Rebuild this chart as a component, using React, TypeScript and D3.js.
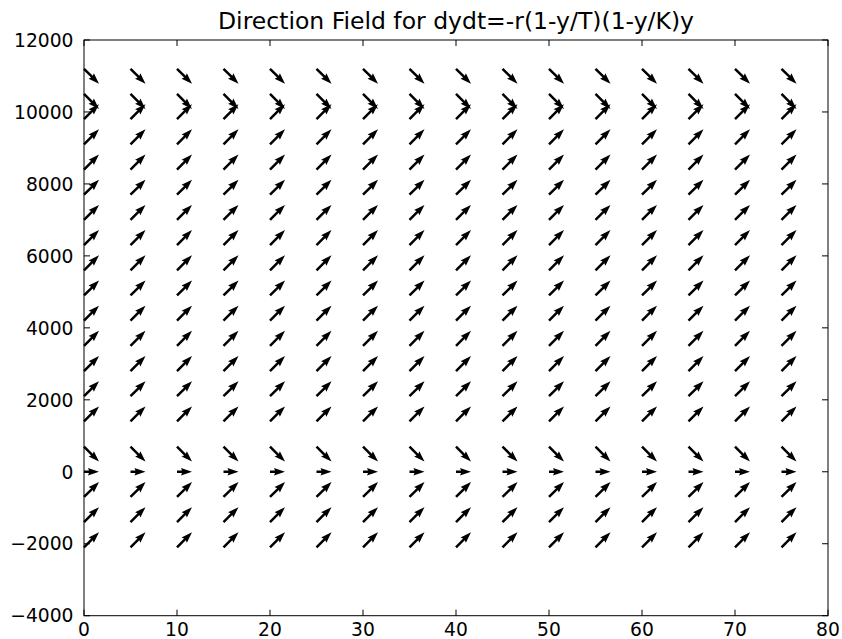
import { useRef, useEffect } from 'react';
import * as d3 from 'd3';

// grid of the direction field
const xValues = [0, 5, 10, 15, 20, 25, 30, 35, 40, 45, 50, 55, 60, 65, 70, 75];
const yValues = [-2100, -1400, -700, 0, 700, 1400, 2100, 2800, 3500, 4200, 4900, 5600, 6300, 7000, 7700, 8400, 9100, 9800, 10500, 11200];
// sign of dy/dt on each row (1 = up, 0 = flat, -1 = down)
const slopeSigns = [1, 1, 1, 0, -1, 1, 1, 1, 1, 1, 1, 1, 1, 1, 1, 1, 1, 1, -1, -1];

const xTicks = [0, 10, 20, 30, 40, 50, 60, 70, 80];
const yTicks = [-4000, -2000, 0, 2000, 4000, 6000, 8000, 10000, 12000];

const title = 'Direction Field for dydt=-r(1-y/T)(1-y/K)y';

const fmt = (d: number) => (d < 0 ? '\u2212' + Math.abs(d) : String(d));

export default function App() {
  const svgRef = useRef<SVGSVGElement>(null);

  useEffect(() => {
    const width = 842;
    const height = 639;
    const margin = { top: 40, right: 14, bottom: 23.3, left: 84 };
    const innerWidth = width - margin.left - margin.right;
    const innerHeight = height - margin.top - margin.bottom;

    const svg = d3.select(svgRef.current);
    svg.selectAll('*').remove();

    svg.append('rect').attr('width', width).attr('height', height).attr('fill', '#ffffff');

    const g = svg.append('g').attr('transform', `translate(${margin.left},${margin.top})`);

    const x = d3.scaleLinear().domain([0, 80]).range([0, innerWidth]);
    const y = d3.scaleLinear().domain([-4000, 12000]).range([innerHeight, 0]);

    const font = '"DejaVu Sans", sans-serif';
    const tickLen = 6;
    const tickFont = '18.7px';

    // arrows (quiver, pivot at tail)
    const unit = 15;
    const w = 2.5;
    const headLen = 4.4 * w;
    const headAxis = 4 * w;
    const headHalf = 1.5 * w;

    const arrowPath = (len: number) => {
      const hl = Math.min(headLen, len);
      const ha = Math.min(headAxis, len);
      const pts: [number, number][] = [
        [0, -w / 2],
        [len - ha, -w / 2],
        [len - hl, -headHalf],
        [len, 0],
        [len - hl, headHalf],
        [len - ha, w / 2],
        [0, w / 2],
      ];
      return d3.line()(pts) + 'Z';
    };

    const cells = xValues.flatMap(xv => yValues.map((yv, i) => ({ x: xv, y: yv, s: slopeSigns[i] })));

    g.append('g')
      .selectAll('path')
      .data(cells)
      .enter()
      .append('path')
      .attr('d', d => arrowPath(unit * Math.sqrt(1 + d.s * d.s)))
      .attr('transform', d => `translate(${x(d.x)},${y(d.y)}) rotate(${-Math.atan2(d.s, 1) * 180 / Math.PI})`)
      .attr('fill', '#000000');

    // frame
    g.append('rect')
      .attr('width', innerWidth)
      .attr('height', innerHeight)
      .attr('fill', 'none')
      .attr('stroke', '#000000')
      .attr('stroke-width', 1);

    // ticks on all four sides, pointing in
    const ticks = g.append('g').attr('stroke', '#000000').attr('stroke-width', 1);
    xTicks.forEach(t => {
      ticks.append('line').attr('x1', x(t)).attr('x2', x(t)).attr('y1', innerHeight).attr('y2', innerHeight - tickLen);
      ticks.append('line').attr('x1', x(t)).attr('x2', x(t)).attr('y1', 0).attr('y2', tickLen);
    });
    yTicks.forEach(t => {
      ticks.append('line').attr('x1', 0).attr('x2', tickLen).attr('y1', y(t)).attr('y2', y(t));
      ticks.append('line').attr('x1', innerWidth).attr('x2', innerWidth - tickLen).attr('y1', y(t)).attr('y2', y(t));
    });

    g.append('g')
      .selectAll('text')
      .data(xTicks)
      .enter()
      .append('text')
      .attr('x', d => x(d))
      .attr('y', innerHeight + 20)
      .attr('text-anchor', 'middle')
      .style('font-family', font)
      .style('font-size', tickFont)
      .attr('fill', '#000000')
      .text(d => fmt(d));

    g.append('g')
      .selectAll('text')
      .data(yTicks)
      .enter()
      .append('text')
      .attr('x', -10.5)
      .attr('y', d => y(d))
      .attr('dy', '0.36em')
      .attr('text-anchor', 'end')
      .style('font-family', font)
      .style('font-size', tickFont)
      .attr('fill', '#000000')
      .text(d => fmt(d));

    svg.append('text')
      .attr('x', margin.left + innerWidth / 2)
      .attr('y', 29)
      .attr('text-anchor', 'middle')
      .style('font-family', font)
      .style('font-size', '23.5px')
      .attr('fill', '#000000')
      .text(title);
  }, []);

  return (
    <svg
      ref={svgRef}
      width={842}
      height={639}
      style={{ position: 'absolute', left: 0, top: 0 }}
    />
  );
}
